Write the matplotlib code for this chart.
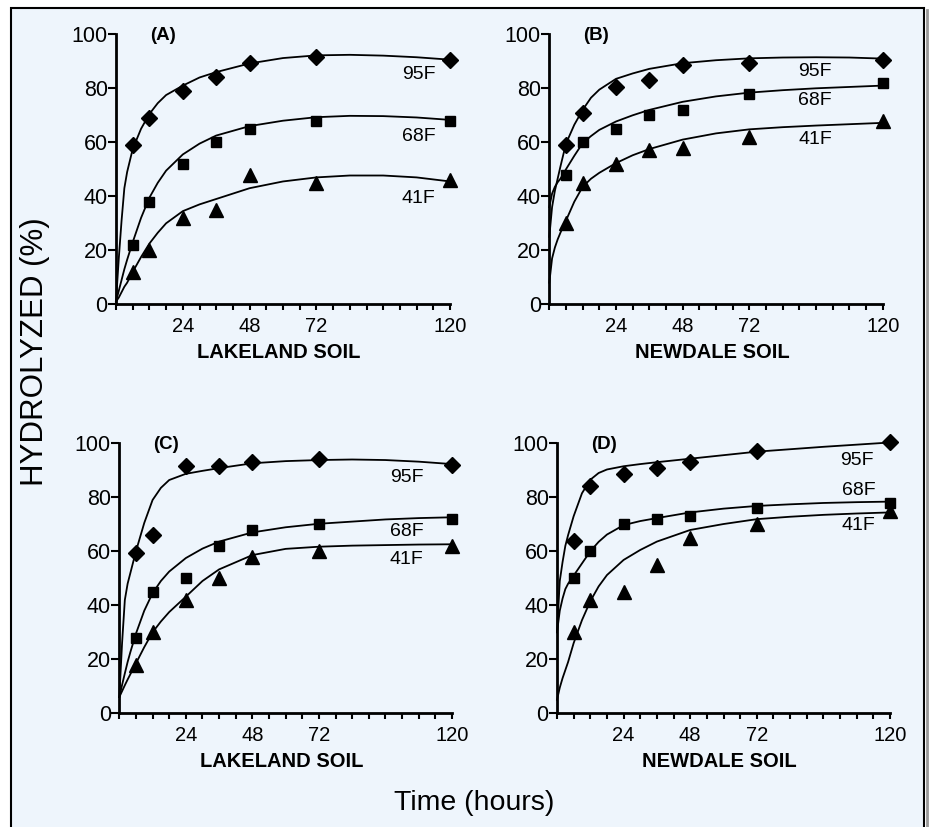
import numpy as np
import matplotlib
matplotlib.use("Agg")
import matplotlib.pyplot as plt
from matplotlib.patches import Rectangle
from matplotlib.lines import Line2D

plt.rcParams['font.family'] = ['Liberation Sans', 'DejaVu Sans']

# sampling hours (measured points)
hours = [6, 12, 24, 36, 48, 72, 120]

# measured hydrolysis (%) - panel A, Lakeland soil
a_95 = [59, 69, 79, 84, 89.5, 91.5, 90.5]
a_68 = [22, 38, 52, 60, 65, 68, 68]
a_41 = [12, 20, 32, 35, 48, 45, 46]
# panel B, Newdale soil
b_95 = [59, 71, 80.5, 83, 88.5, 89.5, 90.5]
b_68 = [48, 60, 65, 70, 72, 78, 82]
b_41 = [30, 45, 52, 57, 58, 62, 68]
# panel C, Lakeland soil
c_95 = [59.5, 66, 91.5, 91.5, 93, 94, 92]
c_68 = [28, 45, 50, 62, 68, 70, 72]
c_41 = [18, 30, 42, 50, 58, 60, 62]
# panel D, Newdale soil
d_95 = [64, 84, 88.5, 91, 93, 97, 100.5]
d_68 = [50, 60, 70, 72, 73, 76, 78]
d_41 = [30, 42, 45, 55, 65, 70, 75]

# fitted curves
curve_hours = [0, 1, 2, 3, 4, 6, 9, 12, 15, 18, 24, 30, 36, 48, 60, 72, 84, 96, 108, 120]
a_95_fit = [1, 17, 31, 43, 49, 57.5, 65, 70.5, 74.5, 77.5, 81, 84, 86, 89.2, 91.2, 92.2, 92.4, 92.1, 91.5, 90.6]
a_68_fit = [1, 5, 9, 13, 16.5, 23, 32, 39.5, 45, 49.5, 55.5, 59.5, 62.5, 66, 68, 69.3, 69.8, 69.7, 69.2, 68.3]
a_41_fit = [1, 2.5, 4.5, 6.5, 8, 12, 17.5, 22.5, 26.5, 30, 34.5, 37, 39, 43, 45.5, 47, 47.7, 47.7, 47, 45.5]
b_95_fit = [25, 36, 42, 46.5, 51, 59.5, 66.5, 72, 76.5, 79.5, 83.5, 85.5, 87.2, 89.3, 90.4, 91.1, 91.4, 91.5, 91.4, 91]
b_68_fit = [36, 41, 43.5, 45.2, 46.5, 50, 55, 59.7, 62.3, 64.6, 67.7, 70, 72, 75, 77, 78.4, 79.3, 80, 80.5, 81]
b_41_fit = [8, 17, 21, 24, 26.5, 31, 38, 43.5, 46.5, 48.7, 52.3, 55.2, 57.5, 61, 63.3, 64.8, 65.6, 66.2, 66.7, 67.2]
c_95_fit = [6, 26, 42, 48, 52, 60, 70.5, 79, 83.5, 86.4, 88.7, 89.8, 90.8, 92.6, 93.4, 93.8, 94, 93.8, 93.2, 92.3]
c_68_fit = [6, 10.5, 14.8, 19, 22.7, 29.5, 38, 44.5, 49, 52.5, 57.5, 61, 63.6, 67, 68.9, 70.2, 71, 71.8, 72.3, 72.6]
c_41_fit = [6, 8.2, 10.4, 12.5, 14.5, 18.5, 24.5, 30, 34, 37.5, 43.2, 49, 53.3, 58.6, 60.9, 61.7, 62.1, 62.3, 62.5, 62.6]
d_95_fit = [30, 49, 56, 62, 66, 73, 81.5, 86.5, 89, 90.3, 91.5, 92.3, 93, 94.3, 95.6, 96.9, 97.8, 98.7, 99.5, 100.3]
d_68_fit = [30, 38, 42.5, 46, 48, 51, 55.5, 60, 63.5, 66.2, 69.7, 71.2, 72.3, 74.4, 75.8, 76.8, 77.4, 77.9, 78.2, 78.4]
d_41_fit = [5, 9.5, 13, 16, 19, 26, 34.5, 41.5, 47, 51.2, 56.8, 60.5, 63.6, 67.9, 70.1, 71.9, 72.8, 73.5, 74, 74.4]

temps = ['95F', '68F', '41F']

panels = [
    ('(A)', 'LAKELAND SOIL', [a_95, a_68, a_41], [a_95_fit, a_68_fit, a_41_fit],
     [(108.7, 85), (108.7, 62), (108.7, 39.3)]),
    ('(B)', 'NEWDALE SOIL', [b_95, b_68, b_41], [b_95_fit, b_68_fit, b_41_fit],
     [(95.7, 86.2), (95.7, 75.4), (95.7, 61.1)]),
    ('(C)', 'LAKELAND SOIL', [c_95, c_68, c_41], [c_95_fit, c_68_fit, c_41_fit],
     [(103.6, 87.4), (103.6, 67.5), (103.6, 56.8)]),
    ('(D)', 'NEWDALE SOIL', [d_95, d_68, d_41], [d_95_fit, d_68_fit, d_41_fit],
     [(108, 93.8), (108.6, 82.7), (108.6, 69.4)]),
]
markers = ['D', 's', '^']
msizes = [8.5, 7, 9.5]

bg = '#eef5fc'
fig = plt.figure(figsize=(9.3, 8.27), dpi=100)
fig.patch.set_facecolor('white')
fig.patches.append(Rectangle((11 / 930, -0.01), (924 - 11) / 930, 1.01 - 8 / 827,
                             transform=fig.transFigure, facecolor=bg,
                             edgecolor='black', lw=1.5, zorder=-10))
fig.lines.append(Line2D([926.5 / 930, 926.5 / 930], [0, 1 - 10 / 827],
                        transform=fig.transFigure, color='#999999', lw=2))

boxes = [
    [116 / 930, 1 - 304.3 / 827, 334 / 930, 270 / 827],
    [549.3 / 930, 1 - 304.3 / 827, 333.4 / 930, 270 / 827],
    [119.3 / 930, 1 - 713.3 / 827, 332.7 / 930, 270 / 827],
    [557 / 930, 1 - 713.3 / 827, 333 / 930, 270 / 827],
]

for box, (tag, soil, pts, fits, lab_pos) in zip(boxes, panels):
    ax = fig.add_axes(box)
    ax.set_facecolor('none')
    for i in range(3):
        ax.plot(curve_hours, fits[i], color='black', lw=1.3, clip_on=False)
        ax.plot(hours, pts[i], linestyle='none', marker=markers[i],
                ms=msizes[i], color='black', clip_on=False, zorder=5)
        ax.text(lab_pos[i][0], lab_pos[i][1], temps[i], ha='center', va='center',
                fontsize=14)
    ax.text(16.8, 99.5, tag, ha='center', va='center', fontsize=13.5, fontweight='bold')
    ax.text(0.488, -0.18, soil, transform=ax.transAxes, ha='center', va='center',
            fontsize=14.5, fontweight='bold')
    ax.set_xlim(0, 120)
    ax.set_ylim(0, 100)
    ax.spines['top'].set_visible(False)
    ax.spines['right'].set_visible(False)
    ax.spines['left'].set_linewidth(2)
    ax.spines['bottom'].set_linewidth(2)
    ax.set_xticks([24, 48, 72, 120])
    ax.set_xticks(np.arange(0, 121, 6), minor=True)
    ax.set_yticks([0, 20, 40, 60, 80, 100])
    ax.tick_params(axis='x', which='both', direction='out', length=4.5, width=1.5,
                   labelsize=14.5, pad=5)
    ax.tick_params(axis='y', which='both', direction='out', length=5.5, width=1.5,
                   labelsize=15.5, pad=0.5)

fig.text(35 / 930, 1 - 352 / 827, 'HYDROLYZED (%)', rotation=90, ha='center',
         va='center', fontsize=22.5)
fig.text(474 / 930, 1 - 803 / 827, 'Time (hours)', ha='center', va='center',
         fontsize=20.5)

fig.savefig('out.png', dpi=100, facecolor=fig.get_facecolor())
